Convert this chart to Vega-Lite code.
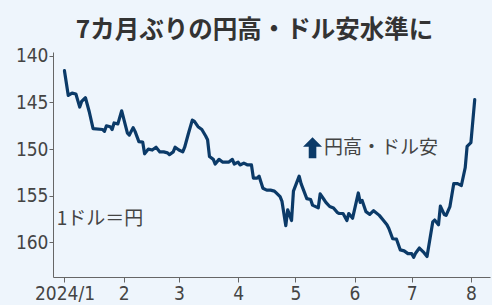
{
  "$schema": "https://vega.github.io/schema/vega-lite/v6.json",
  "width": 437,
  "height": 225,
  "autosize": {"type": "none"},
  "padding": {"left": 53, "top": 52, "right": 2, "bottom": 28},
  "background": "#eef5fc",
  "view": {"stroke": null},
  "title": {
    "text": "7カ月ぶりの円高・ドル安水準に",
    "font": "Noto Sans CJK JP",
    "fontSize": 24.5,
    "fontWeight": "bold",
    "color": "#333333",
    "anchor": "middle",
    "frame": "group",
    "dx": -17,
    "offset": 3
  },
  "config": {
    "axis": {
      "labelFont": "DejaVu Sans Condensed, Roboto Condensed, Roboto, sans-serif",
      "labelFontSize": 19,
      "labelColor": "#444444",
      "domainColor": "#666666",
      "tickColor": "#666666",
      "grid": false,
      "title": null
    }
  },
  "layer": [
    {
      "data": {
        "values": [
          {"date": "2024-01-01", "value": 141.6},
          {"date": "2024-01-03", "value": 144.25},
          {"date": "2024-01-05", "value": 144.0},
          {"date": "2024-01-07", "value": 144.1},
          {"date": "2024-01-09", "value": 145.5},
          {"date": "2024-01-10", "value": 144.9},
          {"date": "2024-01-12", "value": 144.5},
          {"date": "2024-01-14", "value": 146.0},
          {"date": "2024-01-16", "value": 147.8},
          {"date": "2024-01-21", "value": 147.9},
          {"date": "2024-01-22", "value": 148.1},
          {"date": "2024-01-23", "value": 147.5},
          {"date": "2024-01-25", "value": 147.6},
          {"date": "2024-01-26", "value": 147.9},
          {"date": "2024-01-27", "value": 147.2},
          {"date": "2024-01-29", "value": 147.3},
          {"date": "2024-01-31", "value": 145.9},
          {"date": "2024-02-03", "value": 148.3},
          {"date": "2024-02-04", "value": 148.5},
          {"date": "2024-02-06", "value": 147.7},
          {"date": "2024-02-07", "value": 148.1},
          {"date": "2024-02-09", "value": 149.2},
          {"date": "2024-02-11", "value": 149.25},
          {"date": "2024-02-12", "value": 150.5},
          {"date": "2024-02-14", "value": 150.0},
          {"date": "2024-02-16", "value": 150.1},
          {"date": "2024-02-18", "value": 149.8},
          {"date": "2024-02-20", "value": 150.3},
          {"date": "2024-02-22", "value": 150.3},
          {"date": "2024-02-24", "value": 150.4},
          {"date": "2024-02-25", "value": 150.6},
          {"date": "2024-02-27", "value": 150.3},
          {"date": "2024-02-28", "value": 149.8},
          {"date": "2024-03-01", "value": 150.1},
          {"date": "2024-03-03", "value": 150.3},
          {"date": "2024-03-04", "value": 149.8},
          {"date": "2024-03-06", "value": 148.3},
          {"date": "2024-03-08", "value": 146.9},
          {"date": "2024-03-09", "value": 147.0},
          {"date": "2024-03-11", "value": 147.6},
          {"date": "2024-03-13", "value": 147.9},
          {"date": "2024-03-15", "value": 148.6},
          {"date": "2024-03-16", "value": 149.0},
          {"date": "2024-03-17", "value": 150.8},
          {"date": "2024-03-19", "value": 151.1},
          {"date": "2024-03-20", "value": 151.6},
          {"date": "2024-03-22", "value": 151.1},
          {"date": "2024-03-24", "value": 151.4},
          {"date": "2024-03-27", "value": 151.4},
          {"date": "2024-03-29", "value": 151.1},
          {"date": "2024-03-30", "value": 151.6},
          {"date": "2024-04-01", "value": 151.4},
          {"date": "2024-04-02", "value": 151.7},
          {"date": "2024-04-04", "value": 151.5},
          {"date": "2024-04-06", "value": 151.7},
          {"date": "2024-04-08", "value": 151.7},
          {"date": "2024-04-09", "value": 153.1},
          {"date": "2024-04-11", "value": 153.1},
          {"date": "2024-04-12", "value": 152.9},
          {"date": "2024-04-14", "value": 154.2},
          {"date": "2024-04-16", "value": 154.4},
          {"date": "2024-04-18", "value": 154.4},
          {"date": "2024-04-20", "value": 154.5},
          {"date": "2024-04-21", "value": 154.7},
          {"date": "2024-04-23", "value": 155.1},
          {"date": "2024-04-24", "value": 155.6},
          {"date": "2024-04-26", "value": 158.2},
          {"date": "2024-04-27", "value": 156.5},
          {"date": "2024-04-29", "value": 157.65},
          {"date": "2024-04-30", "value": 154.5},
          {"date": "2024-05-03", "value": 152.9},
          {"date": "2024-05-04", "value": 153.7},
          {"date": "2024-05-07", "value": 155.3},
          {"date": "2024-05-09", "value": 155.4},
          {"date": "2024-05-10", "value": 156.0},
          {"date": "2024-05-13", "value": 156.3},
          {"date": "2024-05-14", "value": 154.8},
          {"date": "2024-05-16", "value": 155.4},
          {"date": "2024-05-17", "value": 155.7},
          {"date": "2024-05-19", "value": 156.15},
          {"date": "2024-05-21", "value": 156.3},
          {"date": "2024-05-23", "value": 156.8},
          {"date": "2024-05-24", "value": 156.9},
          {"date": "2024-05-26", "value": 156.9},
          {"date": "2024-05-28", "value": 157.65},
          {"date": "2024-05-29", "value": 156.9},
          {"date": "2024-05-31", "value": 157.4},
          {"date": "2024-06-03", "value": 154.7},
          {"date": "2024-06-04", "value": 155.7},
          {"date": "2024-06-05", "value": 155.5},
          {"date": "2024-06-07", "value": 156.7},
          {"date": "2024-06-09", "value": 157.0},
          {"date": "2024-06-11", "value": 156.6},
          {"date": "2024-06-14", "value": 157.1},
          {"date": "2024-06-16", "value": 157.6},
          {"date": "2024-06-18", "value": 158.1},
          {"date": "2024-06-19", "value": 158.5},
          {"date": "2024-06-21", "value": 159.6},
          {"date": "2024-06-23", "value": 159.65},
          {"date": "2024-06-25", "value": 160.8},
          {"date": "2024-06-27", "value": 160.9},
          {"date": "2024-06-29", "value": 161.2},
          {"date": "2024-07-01", "value": 161.2},
          {"date": "2024-07-02", "value": 161.6},
          {"date": "2024-07-03", "value": 161.15},
          {"date": "2024-07-05", "value": 160.6},
          {"date": "2024-07-07", "value": 161.0},
          {"date": "2024-07-09", "value": 161.5},
          {"date": "2024-07-12", "value": 157.8},
          {"date": "2024-07-13", "value": 157.6},
          {"date": "2024-07-15", "value": 158.1},
          {"date": "2024-07-16", "value": 156.1},
          {"date": "2024-07-18", "value": 157.0},
          {"date": "2024-07-19", "value": 157.1},
          {"date": "2024-07-21", "value": 156.15},
          {"date": "2024-07-23", "value": 153.7},
          {"date": "2024-07-25", "value": 153.7},
          {"date": "2024-07-27", "value": 153.9},
          {"date": "2024-07-29", "value": 152.0},
          {"date": "2024-07-30", "value": 149.7},
          {"date": "2024-08-01", "value": 149.3},
          {"date": "2024-08-03", "value": 144.7}
        ]
      },
      "mark": {"type": "line", "color": "#0b3a68", "strokeWidth": 3.2, "strokeJoin": "round", "strokeCap": "round"},
      "encoding": {
        "x": {
          "field": "date",
          "type": "temporal",
          "scale": {
            "type": "utc",
            "domain": [
              {"year": 2023, "month": 12, "date": 26, "utc": true},
              {"year": 2024, "month": 8, "date": 11, "utc": true}
            ],
            "nice": false
          },
          "axis": {
            "tickCount": {"interval": "month", "step": 1},
            "labelExpr": "utcmonth(datum.value) == 0 ? '2024/1' : '' + (utcmonth(datum.value) + 1)",
            "tickSize": 5,
            "labelPadding": 2,
            "labelFlush": false,
            "labelOverlap": false
          }
        },
        "y": {
          "field": "value",
          "type": "quantitative",
          "scale": {"domain": [139.6, 163.7], "reverse": true, "nice": false, "zero": false},
          "axis": {"values": [140, 145, 150, 155, 160], "tickSize": 4, "labelPadding": 1}
        }
      }
    },
    {
      "data": {"values": [{"date": "2023-12-28", "value": 157.5, "label": "1ドル＝円"}]},
      "mark": {"type": "text", "align": "left", "baseline": "middle", "font": "Noto Sans CJK JP", "fontSize": 19, "color": "#444444"},
      "encoding": {
        "x": {"field": "date", "type": "temporal"},
        "y": {"field": "value", "type": "quantitative"},
        "text": {"field": "label"}
      }
    },
    {
      "data": {"values": [{"date": "2024-05-16", "value": 149.86, "label": "円高・ドル安"}]},
      "mark": {"type": "text", "align": "left", "baseline": "middle", "font": "Noto Sans CJK JP", "fontSize": 19, "color": "#444444"},
      "encoding": {
        "x": {"field": "date", "type": "temporal"},
        "y": {"field": "value", "type": "quantitative"},
        "text": {"field": "label"}
      }
    },
    {
      "data": {"values": [{"date": "2024-05-10", "value": 149.86}]},
      "mark": {
        "type": "point",
        "filled": true,
        "color": "#0b3a68",
        "opacity": 1,
        "size": 361,
        "shape": "M0,-1.1L1,-0.1L0.4,-0.1L0.4,1.1L-0.4,1.1L-0.4,-0.1L-1,-0.1Z"
      },
      "encoding": {
        "x": {"field": "date", "type": "temporal"},
        "y": {"field": "value", "type": "quantitative"}
      }
    }
  ]
}
